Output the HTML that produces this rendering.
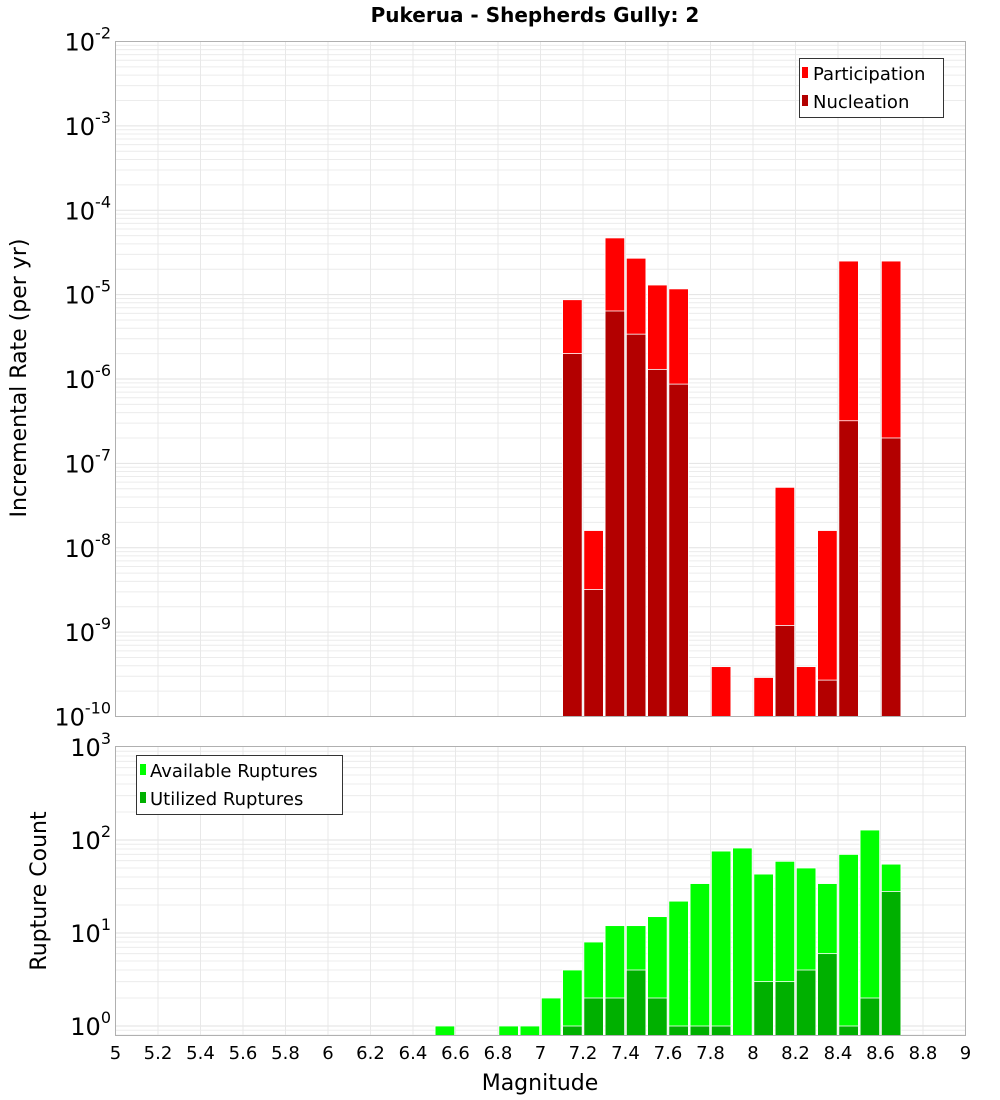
<!DOCTYPE html>
<html><head><meta charset="utf-8"><style>
html,body{margin:0;padding:0;background:#fff;}
svg{display:block;font-family:"DejaVu Sans","Liberation Sans",sans-serif;}
</style></head><body>
<svg id="chart" width="1000" height="1100" viewBox="0 0 1000 1100" xmlns="http://www.w3.org/2000/svg">
<text x="535" y="22" text-anchor="middle" font-size="20" font-weight="bold">Pukerua - Shepherds Gully: 2</text>
<g id="gtop"></g>
<g id="gbot"></g>
<text transform="translate(26,378) rotate(-90)" text-anchor="middle" font-size="22">Incremental Rate (per yr)</text>
<text transform="translate(46,891) rotate(-90)" text-anchor="middle" font-size="22">Rupture Count</text>
<text x="540" y="1090" text-anchor="middle" font-size="22">Magnitude</text>
<g>
<rect x="799.5" y="58.5" width="144" height="59" fill="#fff" stroke="#333"/>
<rect x="802" y="67" width="6" height="11" fill="#ff0000"/>
<text x="813" y="80" font-size="18">Participation</text>
<rect x="802" y="95" width="6" height="11" fill="#b30000"/>
<text x="813" y="108" font-size="18">Nucleation</text>
</g>
<g>
<rect x="136.5" y="755.5" width="206" height="59" fill="#fff" stroke="#333"/>
<rect x="140" y="764" width="6" height="11" fill="#00ff00"/>
<text x="150" y="777" font-size="18">Available Ruptures</text>
<rect x="140" y="792" width="6" height="11" fill="#00b000"/>
<text x="150" y="805" font-size="18">Utilized Ruptures</text>
</g>
</svg>
<script>
const rateMags = [7.15,7.25,7.35,7.45,7.55,7.65,7.85,8.05,8.15,8.25,8.35,8.45,8.65];
const participation = [8.7e-6,1.6e-8,4.7e-5,2.7e-5,1.3e-5,1.17e-5,3.9e-10,2.9e-10,5.2e-8,3.9e-10,1.6e-8,2.5e-5,2.5e-5];
const nucleation = [2.0e-6,3.2e-9,6.4e-6,3.4e-6,1.3e-6,8.7e-7,0,0,1.2e-9,0,2.7e-10,3.2e-7,2.0e-7];
const countMags = [6.55,6.85,6.95,7.05,7.15,7.25,7.35,7.45,7.55,7.65,7.75,7.85,7.95,8.05,8.15,8.25,8.35,8.45,8.55,8.65];
const available = [1,1,1,2,4,8,12,12,15,22,34,76,82,43,59,50,34,70,128,55];
const utilized = [0,0,0,0,1,2,2,4,2,1,1,1,0,3,3,4,6,1,2,28];
const xTicks = [5,5.2,5.4,5.6,5.8,6,6.2,6.4,6.6,6.8,7,7.2,7.4,7.6,7.8,8,8.2,8.4,8.6,8.8,9];
const topExps = [-2,-3,-4,-5,-6,-7,-8,-9,-10];
const botExps = [3,2,1,0];

const NS='http://www.w3.org/2000/svg';
const L=115.5,R=965.5;
function x(m){return L+(m-5)/4*(R-L);}
const TT=41.5,TB=716.5;
function yTop(v){return TT+(-2-Math.log10(v))/8*(TB-TT);}
const BT=746.5,BB=1035.5;
function yBot(v){return 1026-93*Math.log10(v);}
function el(p,tag,a){const e=document.createElementNS(NS,tag);for(const k in a)e.setAttribute(k,a[k]);p.appendChild(e);return e;}

function grid(g,t0,b0,yf,lo,hi){
  el(g,'rect',{x:L,y:t0,width:R-L,height:b0-t0,fill:'#fff'});
  for(let e=lo;e<hi;e++){for(let k=1;k<10;k++){const yy=yf(k*Math.pow(10,e));if(yy<t0||yy>b0)continue;
    el(g,'line',{x1:L,x2:R,y1:yy,y2:yy,stroke:k==1?'#e2e2e2':'#ececec','stroke-width':1});}}
  xTicks.forEach(t=>{el(g,'line',{x1:x(t),x2:x(t),y1:t0,y2:b0,stroke:'#e8e8e8'});});
}
const gTop=document.getElementById('gtop'),gBot=document.getElementById('gbot');
grid(gTop,TT,TB,yTop,-10,-1);
grid(gBot,BT,BB,yBot,-1,3);
const bw=(R-L)/40*0.92;
rateMags.forEach((m,i)=>{
  const y1=yTop(participation[i]);
  const r=el(gTop,'rect',{x:x(m)-bw/2,y:y1,width:bw,height:TB-y1,fill:'#ff0000',stroke:'#fff','stroke-width':0.8});
  
  
  if(nucleation[i]>0){const y2=Math.max(yTop(nucleation[i]),TT);
    const n=el(gTop,'rect',{x:x(m)-bw/2,y:y2,width:bw,height:TB-y2,fill:'#b30000',stroke:'#fff','stroke-width':0.8});
    
    }
});
countMags.forEach((m,i)=>{
  const y1=yBot(available[i]);
  const r=el(gBot,'rect',{x:x(m)-bw/2,y:y1,width:bw,height:BB-y1,fill:'#00ff00',stroke:'#fff','stroke-width':0.8});
  
  
  if(utilized[i]>0){const y2=yBot(utilized[i]);
    const n=el(gBot,'rect',{x:x(m)-bw/2,y:y2,width:bw,height:BB-y2,fill:'#00b000',stroke:'#fff','stroke-width':0.8});
    
    }
});
el(gTop,'rect',{x:L,y:TT,width:R-L,height:TB-TT,fill:'none',stroke:'#b0b0b0'});
el(gBot,'rect',{x:L,y:BT,width:R-L,height:BB-BT,fill:'none',stroke:'#b0b0b0'});
function ylab(g,e,yy){
  const t=el(g,'text',{x:111,y:yy+9,'text-anchor':'end','font-size':24});
  
  
  t.textContent='10';
  const s=el(t,'tspan',{'font-size':16,dy:-12});s.textContent=String(e);
}
topExps.forEach(e=>ylab(gTop,e,yTop(Math.pow(10,e))));
botExps.forEach(e=>ylab(gBot,e,yBot(Math.pow(10,e))));
xTicks.forEach(t=>{
  const tx=el(gBot,'text',{x:x(t),y:1059,'text-anchor':'middle','font-size':18});
  
  
  tx.textContent=String(t);
});
</script>
</body></html>
